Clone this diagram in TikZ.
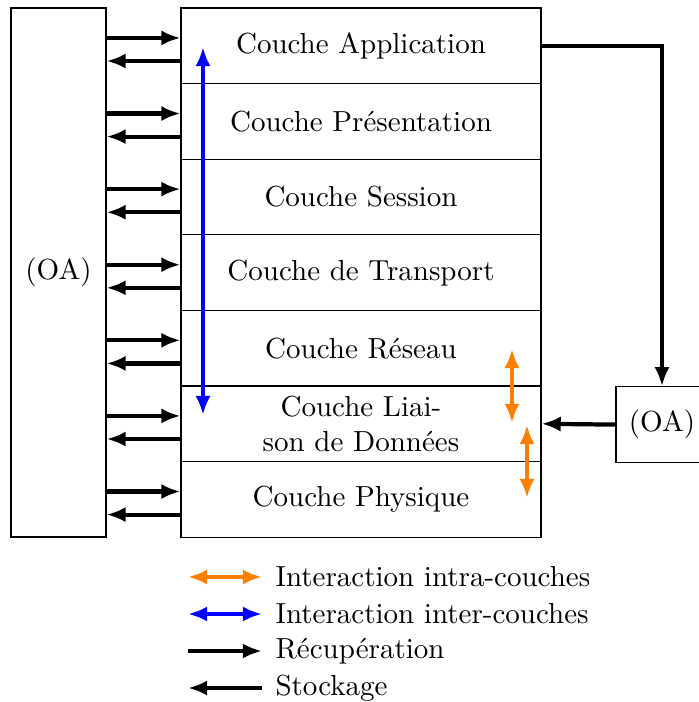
\documentclass[tikz,border=0pt]{standalone}
\usetikzlibrary{arrows.meta,calc}
\tikzset{
  layer/.style={draw, line width=0.4pt, minimum width=127.8pt, minimum height=26.84pt, inner sep=0pt, align=center},
  oabox/.style={draw, line width=0.4pt, inner sep=0pt},
  tip/.style={-{Latex[length=6.8pt,width=5.4pt]}},
  dtip/.style={{Latex[length=6.8pt,width=5.4pt]}-{Latex[length=6.8pt,width=5.4pt]}},
  rec/.style={tip, line width=1.5pt, black},
  inter/.style={dtip, line width=1.5pt, blue},
  intra/.style={dtip, line width=1.5pt, orange},
  legtext/.style={anchor=west, inner sep=0pt}
}
\begin{document}
\begin{tikzpicture}[x=0.355pt, y=-0.355pt, font=\fontsize{10.3pt}{12.4pt}\selectfont]
\useasboundingbox (0,0) rectangle (699,702);
% layers
\node[layer] (L1) at (361,45.8) {Couche Application};
\node[layer] (L2) at (361,121.4) {Couche Présentation};
\node[layer] (L3) at (361,197.0) {Couche Session};
\node[layer] (L4) at (361,272.6) {Couche de Transport};
\node[layer] (L5) at (361,348.2) {Couche Réseau};
\node[layer] (L6) at (361,423.8) {Couche Liai-\\son de Données};
\node[layer] (L7) at (361,499.4) {Couche Physique};
% OA boxes
\node[oabox, minimum width=33.7pt, minimum height=187.8pt] (oaL) at (58.5,272.5) {(OA)};
\node[oabox, minimum width=32.66pt, minimum height=26.84pt] (oaR) at (662,424.6) {(OA)};
% left arrows
\foreach \k in {1,...,7}{
  \coordinate (r\k) at ([yshift=2.8pt]L\k.west);
  \coordinate (s\k) at ([yshift=-5.4pt]L\k.west);
  \draw[rec] (oaL.east |- r\k) -- (r\k);
  \draw[rec] (s\k) -- (oaL.east |- s\k);
}
% right connectors
\draw[rec] (L1.east) -| (oaR.north);
\draw[rec] (oaR.west) -- (L6.east);
% inter-layer arrow
\coordinate (bt) at (203,47);
\coordinate (bb) at (203,415);
\draw[inter] (bt) -- (bb);
% intra-layer arrows
\coordinate (o1t) at (512,349);
\coordinate (o1b) at (512,423);
\coordinate (o2t) at (527,425);
\coordinate (o2b) at (527,498);
\draw[intra] (o1t) -- (o1b);
\draw[intra] (o2t) -- (o2b);
% legend
\coordinate (a1) at (188,577); \coordinate (b1) at (262,577);
\coordinate (a2) at (188,614); \coordinate (b2) at (262,614);
\coordinate (a3) at (188,651); \coordinate (b3) at (262,651);
\coordinate (a4) at (188,688); \coordinate (b4) at (262,688);
\draw[intra] (a1) -- (b1);
\draw[inter] (a2) -- (b2);
\draw[rec] (a3) -- (b3);
\draw[rec] (b4) -- (a4);
\node[legtext] (t1) at (275,577) {Interaction intra-couches};
\node[legtext] (t2) at (275,614) {Interaction inter-couches};
\node[legtext] (t3) at (275,651) {Récupération};
\node[legtext] (t4) at (275,688) {Stockage};
\end{tikzpicture}
\end{document}
